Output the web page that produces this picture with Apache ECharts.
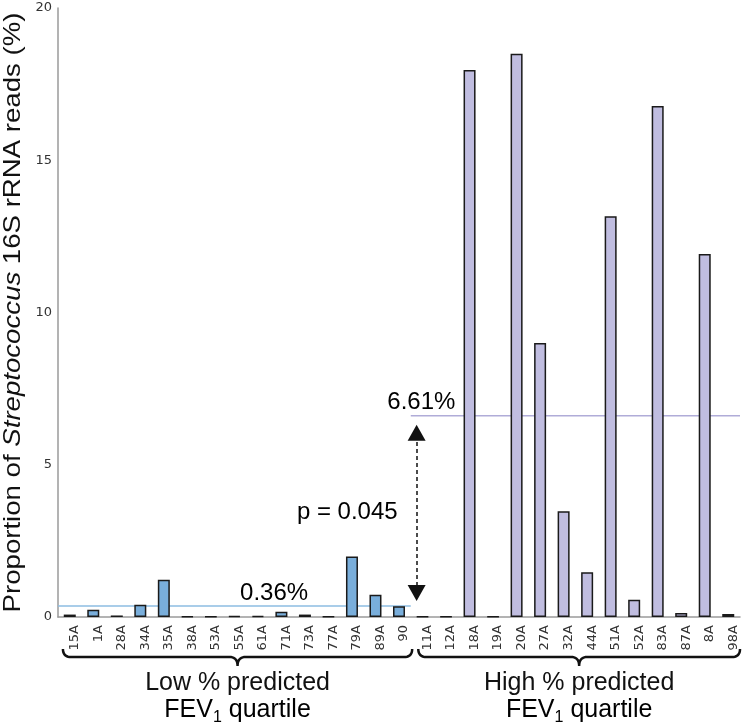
<!DOCTYPE html>
<html>
<head>
<meta charset="utf-8">
<script src="https://cdn.jsdelivr.net/npm/echarts@6/dist/echarts.min.js"></script>
<style>
html,body{margin:0;padding:0;background:#fff;}
#chart{width:742px;height:727px;}
</style>
</head>
<body>
<div id="chart"></div>
<script>
// ---- data ----
const lowNames = ['15A','1A','28A','34A','35A','38A','53A','55A','61A','71A','73A','77A','79A','89A','90'];
const lowValues = [0.08,0.24,0.05,0.40,1.22,0.02,0.01,0.03,0.03,0.17,0.08,0.01,1.99,0.73,0.35];
const highNames = ['11A','12A','18A','19A','20A','27A','32A','44A','51A','52A','83A','87A','8A','98A'];
const highValues = [0.01,0.01,17.96,0.01,18.50,9.00,3.47,1.47,13.16,0.57,16.78,0.13,11.92,0.10];
const lowMean = 0.36;
const highMean = 6.61;
const pValueText = 'p = 0.045';
const yTicks = [0,5,10,15,20];
const groupLabels = ['Low % predicted', 'High % predicted'];

const categories = lowNames.concat(highNames);
const nLow = lowNames.length, nAll = categories.length;
const lowSeries = lowValues.concat(highNames.map(() => null));
const highSeries = lowNames.map(() => null).concat(highValues);

const chart = echarts.init(document.getElementById('chart'));
const TXT = 'Liberation Sans, Arial, sans-serif';

chart.setOption({
  animation: false,
  grid: {left: 58, right: 2, top: 8, bottom: 110, containLabel: false, outerBoundsMode: 'none'},
  xAxis: [{
    type: 'category',
    data: categories,
    axisTick: {show: false},
    axisLine: {lineStyle: {color: '#9a9a9a', width: 1.5}},
    axisLabel: {interval: 0, rotate: 90, fontSize: 13, color: '#333', fontFamily: 'DejaVu Sans', margin: 8,
      verticalAlign: 'top', lineHeight: 10}
  }, {
    type: 'value', min: 0, max: nAll, show: false
  }],
  yAxis: {
    type: 'value', min: yTicks[0], max: yTicks[yTicks.length-1], interval: 5,
    axisLine: {show: true, lineStyle: {color: '#9a9a9a', width: 1.5}},
    axisTick: {show: false},
    splitLine: {show: false},
    axisLabel: {fontSize: 13, color: '#333', fontFamily: 'DejaVu Sans', margin: 6}
  },
  series: [{
    type: 'bar', name: 'low', data: lowSeries, barWidth: 12, barGap: '-100%',
    itemStyle: {color: '#79aedb', borderColor: '#1a1a1a', borderWidth: 1.5}
  }, {
    type: 'bar', name: 'high', data: highSeries, barWidth: 12, barGap: '-100%',
    itemStyle: {color: '#c0bde0', borderColor: '#1a1a1a', borderWidth: 1.5}
  }, {
    type: 'line', xAxisIndex: 1, symbol: 'none', silent: true,
    data: [[0, lowMean], [nLow, lowMean]],
    lineStyle: {color: '#8dbde2', width: 1.5}, z: 1
  }, {
    type: 'line', xAxisIndex: 1, symbol: 'none', silent: true,
    data: [[nLow, highMean], [nAll, highMean]],
    lineStyle: {color: '#b0acd8', width: 1.5}, z: 1,
    markLine: {
      silent: true,
      symbol: ['triangle', 'triangle'],
      symbolSize: [18, 16],
      label: {show: false},
      lineStyle: {color: '#111', width: 1.5, type: [4, 3]},
      data: [[{coord: [nLow + 0.25, 0.79]}, {coord: [nLow + 0.25, 6.05]}]]
    }
  }, {
    type: 'scatter', xAxisIndex: 1, symbolSize: 0, silent: true,
    itemStyle: {opacity: 1},
    data: [
      {value: [15.45, 7.04], text: highMean.toFixed(2) + '%'},
      {value: [12.3, 3.45], text: pValueText},
      {value: [9.19, 0.79], text: lowMean.toFixed(2) + '%'}
    ],
    label: {show: true, position: 'inside', fontSize: 24, fontFamily: TXT, color: '#000',
      formatter: p => p.data.text}
  }]
});

function px(v, y) { return chart.convertToPixel({xAxisIndex: 1, yAxisIndex: 0}, [v, y]); }
function quad(pts, p0, p1, p2) {
  for (let i = 1; i <= 10; i++) {
    const t = i / 10, u = 1 - t;
    pts.push([u*u*p0[0] + 2*u*t*p1[0] + t*t*p2[0], u*u*p0[1] + 2*u*t*p1[1] + t*t*p2[1]]);
  }
}
function bracket(v0, v1) {
  const a = px(v0, 0)[0], b = px(v1, 0)[0], c = (a + b) / 2;
  const yTop = 649, yLine = 657, yTip = 666, r = 8;
  const pts = [[a, yTop]];
  quad(pts, [a, yTop], [a, yLine], [a + r, yLine]);
  pts.push([c - r, yLine]);
  quad(pts, [c - r, yLine], [c, yLine], [c, yTip]);
  quad(pts, [c, yTip], [c, yLine], [c + r, yLine]);
  pts.push([b - r, yLine]);
  quad(pts, [b - r, yLine], [b, yLine], [b, yTop]);
  return pts;
}
const lowB = [0.21, 15.06], highB = [15.32, 29.0];
const lowC = px((lowB[0] + lowB[1]) / 2, 0)[0], highC = px((highB[0] + highB[1]) / 2, 0)[0];
const rich = {
  a: {fontSize: 25, fontFamily: TXT, color: '#111', lineHeight: 25, verticalAlign: 'top'},
  s: {fontSize: 16, fontFamily: TXT, color: '#111', lineHeight: 40, verticalAlign: 'middle'}
};
const yMid = (px(0, yTicks[0])[1] + px(0, yTicks[yTicks.length-1])[1]) / 2;
chart.setOption({
  graphic: [
    {type: 'polyline', shape: {points: bracket(lowB[0], lowB[1])}, style: {fill: null, stroke: '#111', lineWidth: 2.5}},
    {type: 'polyline', shape: {points: bracket(highB[0], highB[1])}, style: {fill: null, stroke: '#111', lineWidth: 2.5}},
    {type: 'text', x: lowC, y: 683, style: {text: groupLabels[0], font: '25px ' + TXT, fill: '#111', align: 'center', verticalAlign: 'middle'}},
    {type: 'text', x: highC, y: 683, style: {text: groupLabels[1], font: '25px ' + TXT, fill: '#111', align: 'center', verticalAlign: 'middle'}},
    {type: 'text', x: lowC, y: 698, style: {text: '{a|FEV}{s|1}{a| quartile}', rich: rich, align: 'center', verticalAlign: 'top'}},
    {type: 'text', x: highC, y: 698, style: {text: '{a|FEV}{s|1}{a| quartile}', rich: rich, align: 'center', verticalAlign: 'top'}},
    {type: 'text', x: 13, y: yMid, rotation: Math.PI / 2, scaleX: 1.15,
      style: {text: '{n|Proportion of }{i|Streptococcus}{n| 16S rRNA reads (%)}', align: 'center', verticalAlign: 'middle',
        rich: {
          n: {fontSize: 24, fontFamily: TXT, fill: '#111'},
          i: {fontSize: 24, fontFamily: TXT, fontStyle: 'italic', fill: '#111'}
        }}}
  ]
});
</script>
</body>
</html>
